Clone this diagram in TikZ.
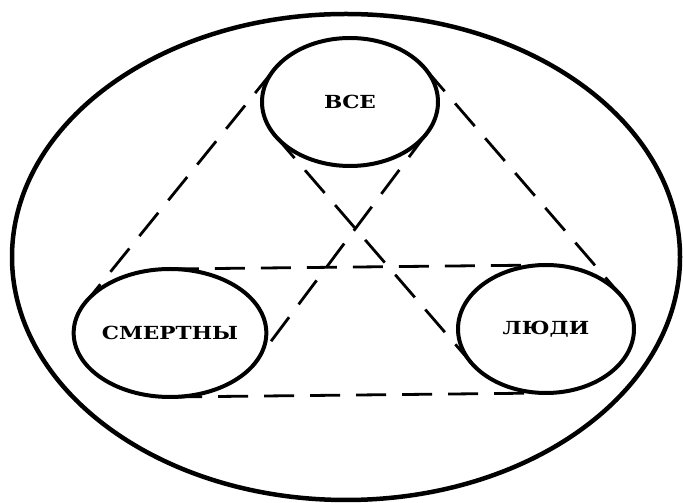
\documentclass[tikz,border=0pt]{standalone}
\usepackage{fontspec}
\setmainfont{DejaVu Serif}
\newfontfamily\termfont[FakeStretch=1.2]{DejaVu Serif}
\usetikzlibrary{shapes.geometric}
\newcommand{\beltline}[3]{\draw[belt] (#1.#3) -- (#2.#3);}

\begin{document}
\begin{tikzpicture}[x=1pt,y=1pt,
  term/.style={ellipse,draw,line width=4pt,minimum width=176pt,minimum height=128pt,
    inner sep=0pt,outer sep=0pt,font=\termfont\bfseries\fontsize{18}{20}\selectfont},
  belt/.style={line width=2.8pt,dash pattern=on 30pt off 16pt}]
\useasboundingbox (0,0) rectangle (683,503);
\draw[line width=4.5pt] (346,246) ellipse [x radius=334, y radius=243];
\node[term] (vse) at (350,401) {ВСЕ};
\node[term] (smertny) at (170,170) {СМЕРТНЫ};
\node[term] (lyudi) at (546,174) {ЛЮДИ};
% belts between pairs of terms
\beltline{vse}{smertny}{157.6} \beltline{vse}{smertny}{-22.4}
\beltline{vse}{lyudi}{24.55} \beltline{vse}{lyudi}{204.55}
\beltline{smertny}{lyudi}{91.16} \beltline{smertny}{lyudi}{-88.84}
\end{tikzpicture}
\end{document}
